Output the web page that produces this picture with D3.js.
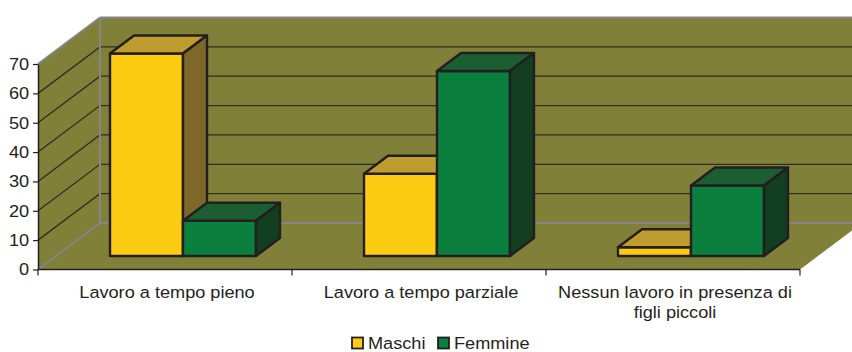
<!DOCTYPE html>
<html>
<head>
<meta charset="utf-8">
<script src="https://cdn.jsdelivr.net/npm/d3@7"></script>
<style>
  html, body { margin: 0; padding: 0; background: #fff; }
  svg { display: block; }
  text { font-family: "Liberation Sans", Arial, sans-serif; fill: #231f20; }
</style>
</head>
<body>
<svg id="chart" width="852" height="352"></svg>
<script>
// Survey shares (%) by preferred work arrangement
const categories = ["Lavoro a tempo pieno", "Lavoro a tempo parziale", "Nessun lavoro in presenza di figli piccoli"];
const seriesNames = ["Maschi", "Femmine"];
const maschi = [69, 28, 3];
const femmine = [12, 63, 24];
const yTicks = [0, 10, 20, 30, 40, 50, 60, 70];

const seriesValues = { Maschi: maschi, Femmine: femmine };
const faceColors = {
  Maschi:  { front: "#fdcb12", top: "#bf9c2e", side: "#7d6829" },
  Femmine: { front: "#0a7f3e", top: "#1a5e31", side: "#123f1f" }
};

const svg = d3.select("#chart");

// oblique depth of the plot box
const depthX = 62, depthY = 46.5;
// bars sit between these depth fractions
const barZ0 = 13.5 / depthY, barZ1 = 31.5 / depthY;

const x0 = d3.scaleBand().domain(categories).range([38, 800]).paddingInner(0).paddingOuter(0);
const x1 = d3.scaleBand().domain(seriesNames).range([0, x0.bandwidth()]).paddingInner(0).paddingOuter(0.74);
const y = d3.scaleLinear().domain([0, 70]).range([269.5, 64]);

const left = x0.range()[0], right = x0.range()[1];
const yBase = y(0), yTop = y(70);
const wallColor = "#808038";
const edgeGray = "#858585";
const dark = "#231f20";
const textScale = 1.1;
const fontSize = 16.5;

const g = svg.append("g");

// back wall
g.append("polygon")
  .attr("points", [[left + depthX, yBase - depthY], [left + depthX, yTop - depthY],
                   [right + depthX, yTop - depthY], [right + depthX, yBase - depthY]].join(" "))
  .attr("fill", wallColor);
// side wall
g.append("polygon")
  .attr("points", [[left, yBase], [left, yTop], [left + depthX, yTop - depthY], [left + depthX, yBase - depthY]].join(" "))
  .attr("fill", wallColor);
// floor
g.append("polygon")
  .attr("points", [[left, yBase], [right, yBase], [right + depthX, yBase - depthY], [left + depthX, yBase - depthY]].join(" "))
  .attr("fill", wallColor);

// gridlines on side and back walls
const gridVals = yTicks.filter(v => v > 0 && v < 70);
g.selectAll("path.grid").data(gridVals).join("path")
  .attr("class", "grid")
  .attr("d", v => `M${left},${y(v)}L${left + depthX},${y(v) - depthY}L${right + depthX},${y(v) - depthY}`)
  .attr("fill", "none")
  .attr("stroke", "#2e2e24")
  .attr("stroke-width", 1.3);

// wall edges
const edges = [
  [[left, yTop], [left + depthX, yTop - depthY]],
  [[left + depthX, yTop - depthY], [right + depthX, yTop - depthY]],
  [[left + depthX, yTop - depthY], [left + depthX, yBase - depthY]],
  [[left + depthX, yBase - depthY], [right + depthX, yBase - depthY]],
  [[left, yBase], [left + depthX, yBase - depthY]]
];
g.selectAll("line.edge").data(edges).join("line")
  .attr("class", "edge")
  .attr("x1", d => d[0][0]).attr("y1", d => d[0][1])
  .attr("x2", d => d[1][0]).attr("y2", d => d[1][1])
  .attr("stroke", edgeGray).attr("stroke-width", 2);

// y axis
const yAxis = g.append("g")
  .attr("transform", `translate(${left},0)`)
  .call(d3.axisLeft(y).tickValues(yTicks).tickSize(5).tickPadding(3).tickSizeOuter(0));
yAxis.select(".domain").attr("stroke", dark).attr("stroke-width", 1.5);
yAxis.selectAll(".tick line").attr("stroke", dark).attr("stroke-width", 1.2);
yAxis.selectAll(".tick text")
  .attr("font-size", fontSize)
  .attr("font-family", "Liberation Sans, Arial, sans-serif")
  .attr("fill", dark)
  .attr("transform", `scale(${textScale},1)`);

// x axis line and category ticks
g.append("line")
  .attr("x1", left).attr("x2", right).attr("y1", yBase).attr("y2", yBase)
  .attr("stroke", dark).attr("stroke-width", 1.5);
const tickXs = categories.map(c => x0(c)).concat([right]);
g.selectAll("line.xtick").data(tickXs).join("line")
  .attr("class", "xtick")
  .attr("x1", d => d).attr("x2", d => d)
  .attr("y1", yBase).attr("y2", yBase + 6)
  .attr("stroke", dark).attr("stroke-width", 1.2);

// 3D bars
const barW = x1.bandwidth();
const bx = depthX * barZ0, by = depthY * barZ0;
const ddx = depthX * (barZ1 - barZ0), ddy = depthY * (barZ1 - barZ0);

categories.forEach((cat, i) => {
  seriesNames.forEach(s => {
    const v = seriesValues[s][i];
    const xl = x0(cat) + x1(s) + bx;
    const xr = xl + barW;
    const yt = y(v) - by;
    const yb = y(0) - by;
    const bar = g.append("g").attr("class", "bar");
    const style = sel => sel.attr("stroke", dark).attr("stroke-width", 2.4).attr("stroke-linejoin", "round");
    bar.append("polygon")
      .attr("points", [[xl, yb], [xl, yt], [xr, yt], [xr, yb]].join(" "))
      .attr("fill", faceColors[s].front).call(style);
    bar.append("polygon")
      .attr("points", [[xl, yt], [xr, yt], [xr + ddx, yt - ddy], [xl + ddx, yt - ddy]].join(" "))
      .attr("fill", faceColors[s].top).call(style);
    bar.append("polygon")
      .attr("points", [[xr, yt], [xr + ddx, yt - ddy], [xr + ddx, yb - ddy], [xr, yb]].join(" "))
      .attr("fill", faceColors[s].side).call(style);
  });
});

// category labels, wrapped to the category width
const maxLabelW = 248;
const lineH = 21;
categories.forEach(cat => {
  const cx = x0(cat) + x0.bandwidth() / 2 + 2;
  const t = g.append("text")
    .attr("font-size", fontSize)
    .attr("text-anchor", "middle")
    .attr("transform", `translate(${cx},297.5) scale(${textScale},1)`);
  const words = cat.split(" ");
  let line = [];
  let lineNo = 0;
  let tspan = t.append("tspan").attr("x", 0).attr("y", 0);
  words.forEach(w => {
    line.push(w);
    tspan.text(line.join(" "));
    if (tspan.node().getComputedTextLength() * textScale > maxLabelW && line.length > 1) {
      line.pop();
      tspan.text(line.join(" "));
      line = [w];
      lineNo++;
      tspan = t.append("tspan").attr("x", 0).attr("y", lineNo * lineH).text(w);
    }
  });
});

// legend
const legendItems = [
  { name: "Maschi", x: 352 },
  { name: "Femmine", x: 438 }
];
const lg = g.selectAll("g.legend").data(legendItems).join("g")
  .attr("class", "legend")
  .attr("transform", d => `translate(${d.x},337.5)`);
lg.append("rect")
  .attr("x", 0).attr("y", 0).attr("width", 11).attr("height", 11)
  .attr("fill", d => faceColors[d.name].front)
  .attr("stroke", dark).attr("stroke-width", 1.8);
lg.append("text")
  .attr("font-size", fontSize)
  .attr("transform", `translate(16,11) scale(${textScale},1)`)
  .text(d => d.name);
</script>
</body>
</html>
